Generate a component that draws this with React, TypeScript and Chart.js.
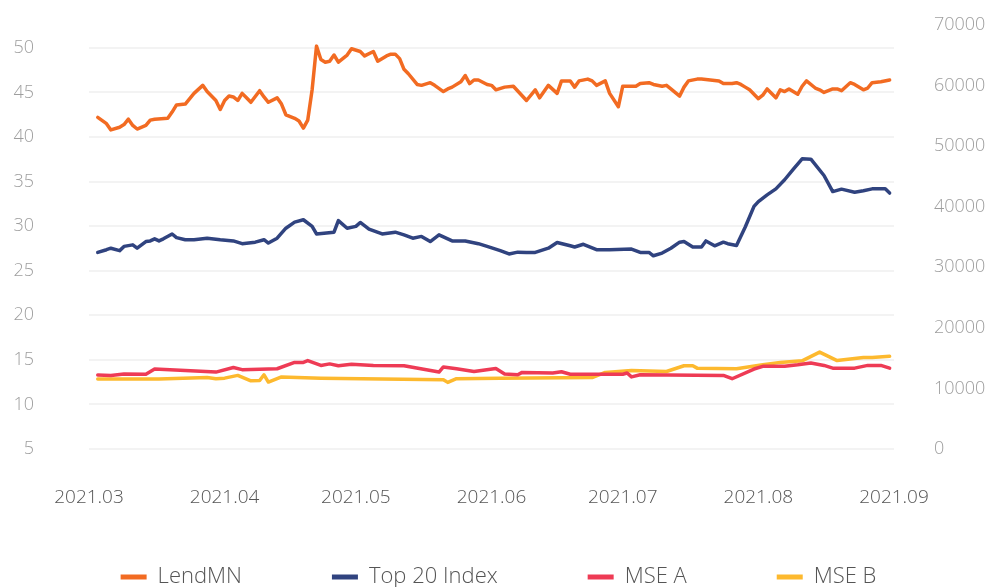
import { useEffect, useRef } from "react";
import { Chart, registerables } from "chart.js";

Chart.register(...registerables);

// x values are days counted from 2021-03-01
const monthTicks = [0, 31, 61, 92, 122, 153, 184];
const monthLabels = ["2021.03", "2021.04", "2021.05", "2021.06", "2021.07", "2021.08", "2021.09"];

const lendDays = [2, 4, 5, 7, 8, 9, 10, 11, 13, 14, 15, 18, 19, 20, 22, 24, 26, 27, 29, 30, 31, 32, 33, 34, 35, 36, 37, 39, 40, 41, 43, 44, 45, 47, 48, 49, 50, 51, 52, 53, 54, 55, 56, 57, 59, 60, 62, 63, 65, 66, 68, 69, 70, 71, 72, 73, 75, 76, 78, 79, 81, 82, 83, 85, 86, 87, 88, 89, 91, 92, 93, 95, 97, 100, 102, 103, 105, 107, 108, 110, 111, 112, 114, 115, 116, 118, 119, 121, 122, 125, 126, 128, 129, 131, 132, 133, 135, 136, 137, 139, 140, 142, 144, 145, 147, 148, 149, 150, 151, 153, 154, 155, 157, 158, 159, 160, 162, 163, 164, 166, 167, 168, 170, 171, 172, 174, 175, 177, 178, 179, 181, 183];
const lendValues = [42.2, 41.5, 40.8, 41.1, 41.4, 42.0, 41.3, 40.9, 41.3, 41.9, 42.0, 42.1, 42.8, 43.6, 43.7, 44.9, 45.8, 45.1, 44.1, 43.1, 44.1, 44.6, 44.5, 44.1, 44.9, 44.4, 43.9, 45.2, 44.5, 43.9, 44.4, 43.7, 42.5, 42.1, 41.8, 41.0, 41.9, 45.3, 50.2, 48.7, 48.4, 48.5, 49.2, 48.4, 49.2, 49.9, 49.6, 49.1, 49.6, 48.5, 49.1, 49.3, 49.3, 48.8, 47.6, 47.1, 45.9, 45.8, 46.1, 45.8, 45.1, 45.4, 45.6, 46.2, 46.9, 46.0, 46.4, 46.4, 45.9, 45.8, 45.3, 45.6, 45.7, 44.1, 45.3, 44.4, 45.8, 44.9, 46.3, 46.3, 45.6, 46.3, 46.5, 46.3, 45.8, 46.3, 44.9, 43.4, 45.7, 45.7, 46.0, 46.1, 45.9, 45.7, 45.8, 45.4, 44.6, 45.6, 46.3, 46.5, 46.5, 46.4, 46.3, 46.0, 46.0, 46.1, 45.9, 45.6, 45.3, 44.3, 44.7, 45.4, 44.4, 45.3, 45.1, 45.4, 44.8, 45.7, 46.3, 45.5, 45.3, 45.0, 45.4, 45.4, 45.2, 46.1, 45.9, 45.3, 45.5, 46.1, 46.2, 46.4];

const top20Days = [2, 4, 5, 7, 8, 10, 11, 13, 14, 15, 16, 17, 19, 20, 22, 24, 27, 30, 33, 35, 38, 40, 41, 43, 45, 47, 49, 51, 52, 56, 57, 59, 61, 62, 64, 67, 70, 72, 74, 76, 78, 80, 83, 86, 89, 91, 94, 96, 98, 100, 102, 105, 107, 110, 111, 113, 116, 119, 124, 126, 128, 129, 131, 133, 135, 136, 138, 140, 141, 143, 145, 146, 148, 150, 152, 153, 155, 157, 159, 161, 163, 165, 168, 170, 172, 175, 177, 179, 182, 183];
const top20Values = [32450, 32900, 33150, 32750, 33450, 33700, 33150, 34250, 34350, 34700, 34350, 34700, 35500, 34900, 34550, 34550, 34800, 34550, 34350, 33900, 34150, 34550, 34000, 34800, 36450, 37450, 37850, 36750, 35500, 35800, 37700, 36450, 36750, 37400, 36300, 35500, 35800, 35350, 34800, 35100, 34250, 35350, 34350, 34350, 33900, 33450, 32750, 32200, 32500, 32450, 32450, 33150, 34100, 33550, 33350, 33800, 32900, 32900, 33000, 32450, 32450, 31900, 32350, 33150, 34150, 34250, 33350, 33350, 34350, 33550, 34150, 33900, 33600, 36650, 40050, 40850, 41950, 42950, 44450, 46200, 47900, 47850, 45150, 42500, 42900, 42400, 42650, 42950, 42950, 42250];

const mseADays = [2, 5, 8, 13, 15, 29, 33, 35, 43, 47, 49, 50, 53, 55, 57, 60, 65, 72, 80, 81, 84, 88, 93, 95, 98, 99, 106, 108, 110, 122, 123, 124, 126, 145, 147, 152, 154, 159, 162, 165, 168, 170, 175, 178, 181, 183];
const mseAValues = [12200, 12150, 12400, 12350, 13200, 12700, 13450, 13100, 13250, 14300, 14300, 14600, 13800, 14050, 13750, 14000, 13800, 13750, 12700, 13550, 13250, 12800, 13300, 12400, 12250, 12650, 12550, 12750, 12350, 12350, 12550, 11900, 12250, 12150, 11600, 13200, 13650, 13650, 13900, 14200, 13800, 13350, 13350, 13800, 13800, 13350];

const mseBDays = [2, 16, 27, 29, 31, 34, 37, 39, 40, 41, 44, 53, 81, 82, 84, 94, 115, 118, 124, 132, 136, 138, 139, 148, 154, 158, 163, 167, 171, 174, 177, 179, 183];
const mseBValues = [11550, 11550, 11800, 11600, 11700, 12150, 11250, 11300, 12250, 11050, 11900, 11700, 11450, 11000, 11600, 11700, 11800, 12650, 12950, 12800, 13750, 13750, 13350, 13250, 13900, 14300, 14550, 16000, 14600, 14850, 15100, 15100, 15300];

const FONT = "'Open Sans', sans-serif";

export default function App() {
  const ref = useRef<HTMLCanvasElement>(null);

  useEffect(() => {
    if (!ref.current) return;
    const pts = (days: number[], vals: number[]) => days.map((d, i) => ({ x: d, y: vals[i] }));
    const mk = (label: string, days: number[], vals: number[], color: string, axis: string) => ({
      label,
      data: pts(days, vals),
      borderColor: color,
      backgroundColor: color,
      yAxisID: axis,
      borderWidth: 3.5,
      pointRadius: 0,
      tension: 0,
      borderJoinStyle: "round" as const,
      borderCapStyle: "round" as const,
    });
    const noPad = (axis: any, width: number) => {
      axis.width = width;
      axis.paddingTop = 0;
      axis.paddingBottom = 0;
    };
    const chart = new Chart(ref.current, {
      type: "line",
      data: {
        datasets: [
          mk("LendMN", lendDays, lendValues, "#F26B22", "y"),
          mk("Top 20 Index", top20Days, top20Values, "#30437F", "y1"),
          mk("MSE A", mseADays, mseAValues, "#EE3B55", "y1"),
          mk("MSE B", mseBDays, mseBValues, "#FDB92E", "y1"),
        ],
      },
      options: {
        animation: false,
        responsive: false,
        devicePixelRatio: 1,
        layout: { padding: { top: 25, left: 0, right: 0, bottom: 0 } },
        plugins: {
          tooltip: { enabled: false },
          legend: {
            position: "bottom",
            labels: {
              boxWidth: 26,
              boxHeight: 5,
              padding: 90,
              color: "#555",
              font: { family: FONT, size: 22, weight: 300 },
              generateLabels: (c: any) =>
                Chart.defaults.plugins.legend.labels
                  .generateLabels(c)
                  .map((l: any) => ({ ...l, lineWidth: 0 })),
            },
          },
        },
        scales: {
          x: {
            type: "linear",
            position: "bottom",
            min: 0,
            max: 184,
            grid: { display: false, drawTicks: false, tickLength: 0 },
            border: { display: false },
            afterBuildTicks: (axis: any) => {
              axis.ticks = monthTicks.map((v) => ({ value: v }));
            },
            afterFit: (axis: any) => {
              axis.height = 27;
            },
            ticks: {
              autoSkip: false,
              maxRotation: 0,
              mirror: true,
              padding: -59.6,
              color: "#555",
              font: { family: FONT, size: 19, weight: 300 },
              callback: (v: any) => {
                const i = monthTicks.indexOf(Number(v));
                return i >= 0 ? monthLabels[i] : "";
              },
            },
          },
          y: {
            position: "left",
            min: 5,
            max: 52.57,
            afterBuildTicks: (axis: any) => {
              axis.ticks = axis.ticks.filter((t: any) => Math.abs(t.value % 5) < 1e-6);
            },
            afterFit: (axis: any) => noPad(axis, 89),
            grid: { color: "#f3f3f3", lineWidth: 2, drawTicks: false, tickLength: 0 },
            border: { display: false },
            ticks: {
              stepSize: 5,
              padding: 55,
              color: "#9e9e9e",
              font: { family: FONT, size: 18, weight: 300 },
              callback: (v: any) => String(v),
            },
          },
          y1: {
            position: "right",
            min: 0,
            max: 70000,
            afterFit: (axis: any) => noPad(axis, 103),
            grid: { display: false, drawTicks: false, tickLength: 0 },
            border: { display: false },
            ticks: {
              stepSize: 10000,
              padding: 40,
              color: "#9e9e9e",
              font: { family: FONT, size: 18, weight: 300 },
              callback: (v: any) => String(v),
            },
          },
        },
      },
    } as any);
    return () => chart.destroy();
  }, []);

  return (
    <div
      style={{
        position: "fixed",
        left: 0,
        top: 0,
        width: 997,
        height: 587,
        overflow: "hidden",
        background: "#fff",
      }}
    >
      <canvas ref={ref} width={997} height={598} style={{ display: "block", width: 997, height: 598 }} />
    </div>
  );
}
